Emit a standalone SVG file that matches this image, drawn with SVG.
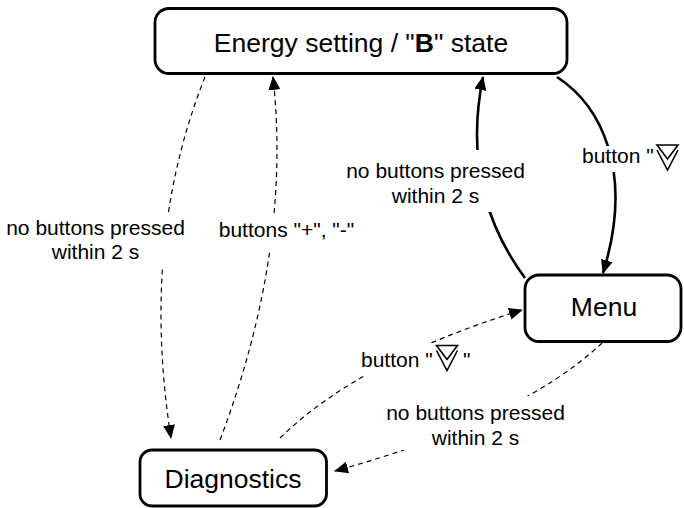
<svg xmlns="http://www.w3.org/2000/svg" width="684" height="508" viewBox="0 0 684 508">
  <style>
    .node rect { fill: #ffffff; stroke: #000000; stroke-width: 2.8; }
    .node text { font-family: "Liberation Sans", Arial, sans-serif; font-size: 26.5px; fill: #000000; text-anchor: middle; }
    .solid { fill: none; stroke: #000000; stroke-width: 2.6; }
    .dashed { fill: none; stroke: #000000; stroke-width: 1.2; stroke-dasharray: 5 4; }
    .bg { fill: #ffffff; stroke: none; }
    .lbl { font-family: "Liberation Sans", Arial, sans-serif; font-size: 21px; fill: #000000; }
    .mid { text-anchor: middle; }
    .sym { fill: none; stroke: #000000; stroke-width: 1.6; stroke-linejoin: miter; }
  </style>
  <defs>
    <marker id="arrow" viewBox="0 0 14 12" refX="13" refY="6" markerWidth="14" markerHeight="12" markerUnits="userSpaceOnUse" orient="auto">
      <path d="M0,0 L14,6 L0,12 z" fill="#000000"/>
    </marker>
    <!-- down-scroll button glyph: open triangle with a chevron beneath -->
    <g id="btnDown">
      <path class="sym" d="M0,0 L21,0 L10.5,14 Z"/>
      <path class="sym" d="M0,5 L10.5,25 L21,5"/>
    </g>
  </defs>

  <!-- connectors -->
  <g id="connectors">
    <!-- Menu -> Energy setting (timeout) -->
    <path class="solid" d="M525,278 Q460,190 483,77" marker-end="url(#arrow)"/>
    <!-- Energy setting -> Menu -->
    <path class="solid" d="M557,77 C600,105 635,170 603,273" marker-end="url(#arrow)"/>
    <!-- Energy setting -> Diagnostics (timeout) -->
    <path class="dashed" d="M205,77 Q140,240 171,438" marker-end="url(#arrow)"/>
    <!-- Diagnostics -> Energy setting -->
    <path class="dashed" d="M220,440 Q292,250 273,77" marker-end="url(#arrow)"/>
    <!-- Diagnostics -> Menu -->
    <path class="dashed" d="M280,438 Q360,360 522,310" marker-end="url(#arrow)"/>
    <!-- Menu -> Diagnostics (timeout) -->
    <path class="dashed" d="M602,343 Q520,420 335,471" marker-end="url(#arrow)"/>

    <!-- connector labels -->
    <rect class="bg" x="5" y="215" width="182" height="51"/>
    <text class="lbl mid" x="95.5" y="235">no buttons pressed</text>
    <text class="lbl mid" x="95.5" y="259">within 2 s</text>

    <rect class="bg" x="214" y="215" width="146" height="34"/>
    <text class="lbl mid" x="286.5" y="237">buttons "+", "-"</text>

    <rect class="bg" x="345" y="150" width="181" height="62"/>
    <text class="lbl mid" x="435.5" y="178">no buttons pressed</text>
    <text class="lbl mid" x="435.5" y="203">within 2 s</text>

    <rect class="bg" x="580" y="146" width="104" height="26"/>
    <text class="lbl" x="582" y="163">button "</text>
    <use href="#btnDown" transform="translate(657,145)"/>

    <rect class="bg" x="359" y="343" width="116" height="32"/>
    <text class="lbl" x="361" y="367">button "</text>
    <use href="#btnDown" transform="translate(436.5,345.5)"/>
    <text class="lbl" x="463" y="367">"</text>

    <rect class="bg" x="385" y="396" width="181" height="54"/>
    <text class="lbl mid" x="475.5" y="420">no buttons pressed</text>
    <text class="lbl mid" x="475.5" y="445">within 2 s</text>
  </g>

  <!-- states -->
  <g id="energy" class="node">
    <rect x="155" y="8.5" width="412" height="65" rx="14"/>
    <text x="361" y="52">Energy setting / "<tspan font-weight="bold">B</tspan>" state</text>
  </g>
  <g id="menu" class="node">
    <rect x="525" y="275" width="156" height="66.5" rx="14"/>
    <text x="604" y="316">Menu</text>
  </g>
  <g id="diagnostics" class="node">
    <rect x="140" y="450" width="186.5" height="56" rx="12"/>
    <text x="233" y="488">Diagnostics</text>
  </g>
</svg>
